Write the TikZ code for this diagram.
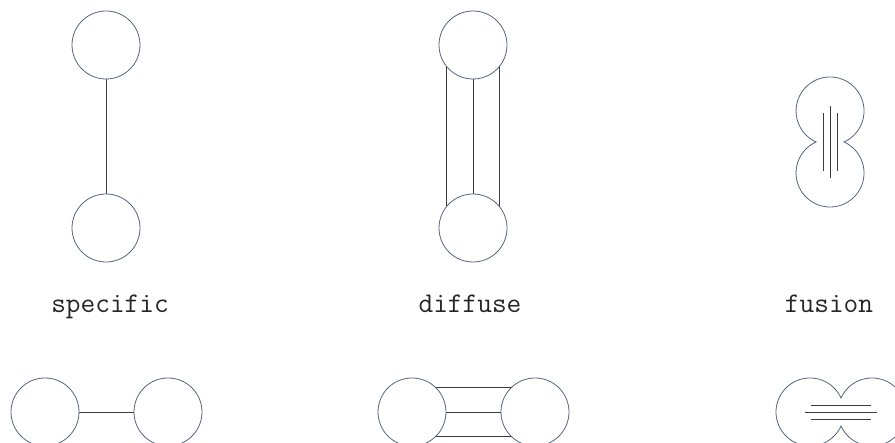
\documentclass[tikz,border=0pt]{standalone}
\usepackage{tikz}
\usetikzlibrary{positioning}
\definecolor{rim}{HTML}{56667E}
\definecolor{bond}{HTML}{3C3C3C}
\tikzset{blob/.style={circle,draw=rim,line width=0.8pt,minimum size=68pt,inner sep=0pt},link/.style={draw=bond,line width=0.8pt},lobe/.style={draw=rim,line width=0.8pt},tag/.style={font=\ttfamily\fontsize{28.5}{32}\selectfont,anchor=base,text=black!85}}

\begin{document}
\begin{tikzpicture}[x=1pt,y=1pt]
\clip (0,0) rectangle (895,443);
\fill[white] (0,0) rectangle (895,443);
% specific
\node[blob] (sa) at (106,398) {};
\node[blob] (sb) at (106,215) {};
\draw[link] (sa)--(sb);
\node[tag] (ls) at (110,130) {specific};
% diffuse
\node[blob] (da) at (473,398) {};
\node[blob] (db) at (473,215) {};
\draw[link] (da.-140)--(db.140);
\draw[link] (da)--(db);
\draw[link] (da.-40)--(db.40);
\node[tag] (ld) at (470,130) {diffuse};
% fusion
\draw[lobe] (844,301) arc[start angle=-65.76,end angle=245.76,radius=34]
  arc[start angle=114.24,end angle=425.76,radius=34] -- cycle;
\begin{scope}[shift={(830,301)}]
\draw[link] (-7,-29)--(-7,29);
\draw[link] (0,-36)--(0,36);
\draw[link] (7,-29)--(7,29);
\end{scope}
\node[tag] (lf) at (829,130) {fusion};
% bottom row
\node[blob] (sl) at (45,31) {};
\node[blob] (sr) at (168,31) {};
\draw[link] (sl)--(sr);
\node[blob] (dl) at (412,31) {};
\node[blob] (dr) at (535,31) {};
\draw[link] (dl.45)--(dr.135);
\draw[link] (dl)--(dr);
\draw[link] (dl.-45)--(dr.-135);
\draw[lobe] (841,44.96) arc[start angle=24.24,end angle=335.76,radius=34]
  arc[start angle=204.24,end angle=515.76,radius=34] -- cycle;
\begin{scope}[shift={(841,31)}]
\draw[link] (-30,7)--(30,7);
\draw[link] (-36,0)--(36,0);
\draw[link] (-30,-7)--(30,-7);
\end{scope}
\end{tikzpicture}
\end{document}
